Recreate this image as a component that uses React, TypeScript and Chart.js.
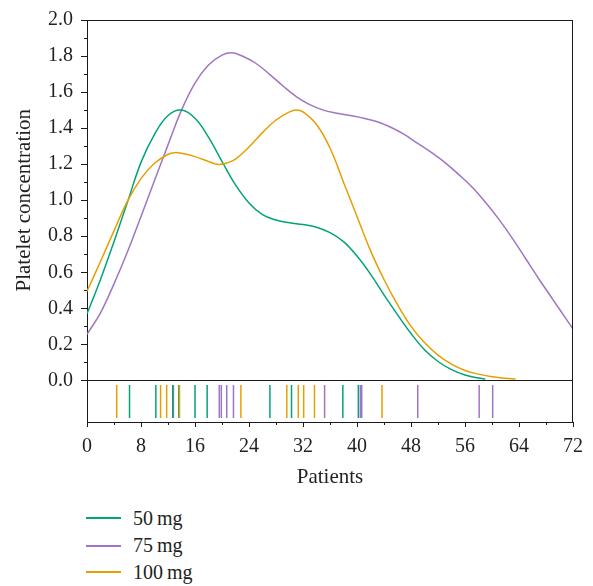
import React, { useEffect, useRef } from 'react';
import { Chart, registerables } from 'chart.js';

Chart.register(...registerables);

// ---- data ----
const SERIES_LABELS = ['50\u2009mg', '75\u2009mg', '100\u2009mg'];
const SERIES_COLORS = ['#00a478', '#9e76c4', '#e69f00'];

const X_50 = [0, 2, 4, 6, 8, 10, 12, 14, 16, 18, 20, 22, 24, 26, 28, 30, 32, 34, 36, 38, 40, 42, 44, 46, 48, 50, 52, 54, 56, 58, 59];
const Y_50 = [0.37, 0.56, 0.77, 0.99, 1.21, 1.365, 1.47, 1.5, 1.455, 1.35, 1.215, 1.085, 0.985, 0.92, 0.89, 0.875, 0.865, 0.85, 0.82, 0.77, 0.69, 0.59, 0.475, 0.365, 0.26, 0.17, 0.105, 0.06, 0.03, 0.013, 0.008];

const X_75 = [0, 2, 4, 6, 8, 10, 12, 14, 16, 18, 20, 21.5, 23, 25, 27, 29, 31, 33, 35, 37, 39, 41, 43, 45, 47, 49, 51, 53, 55, 57, 59, 61, 63, 65, 67, 69, 71, 72];
const Y_75 = [0.256, 0.375, 0.536, 0.714, 0.91, 1.109, 1.307, 1.5, 1.65, 1.75, 1.805, 1.818, 1.8, 1.76, 1.7, 1.635, 1.575, 1.53, 1.5, 1.483, 1.47, 1.455, 1.435, 1.405, 1.365, 1.315, 1.265, 1.21, 1.145, 1.075, 0.99, 0.895, 0.79, 0.675, 0.56, 0.45, 0.34, 0.285];

const X_100 = [0, 2, 4, 6, 8, 10, 12, 13, 14, 16, 18, 19.5, 21, 22, 24, 26, 28, 30, 31, 32, 34, 36, 38, 40, 42, 44, 46, 48, 50, 52, 54, 56, 58, 60, 62, 63.5];
const Y_100 = [0.495, 0.66, 0.83, 0.995, 1.12, 1.205, 1.255, 1.264, 1.26, 1.242, 1.215, 1.198, 1.21, 1.228, 1.295, 1.375, 1.445, 1.49, 1.5, 1.49, 1.42, 1.29, 1.1, 0.91, 0.72, 0.56, 0.42, 0.3, 0.21, 0.14, 0.09, 0.055, 0.035, 0.02, 0.012, 0.008];

const RUG_50 = [6.3, 10.2, 12.7, 13.6, 16.0, 17.8, 27.1, 30.3, 37.9, 40.2];
const RUG_75 = [12.8, 19.6, 19.9, 20.7, 21.7, 35.2, 40.5, 40.7, 49.0, 58.1, 60.1];
const RUG_100 = [4.4, 10.9, 11.8, 13.7, 22.8, 29.6, 31.3, 32.1, 33.7, 43.7];

const X_TICKS = [0, 8, 16, 24, 32, 40, 48, 56, 64, 72];
const X_MINOR = [4, 12, 20, 28, 36, 44, 52, 60, 68];
const Y_TICKS = [0, 0.2, 0.4, 0.6, 0.8, 1.0, 1.2, 1.4, 1.6, 1.8, 2.0];
const Y_MINOR = [0.1, 0.3, 0.5, 0.7, 0.9, 1.1, 1.3, 1.5, 1.7, 1.9];

const X_TITLE = 'Patients';
const Y_TITLE = 'Platelet concentration';

const FONT = '"Liberation Serif", "DejaVu Serif", serif';
const TEXT = '#231f20';
const AXIS = '#1a1a1a';
const W = 593;
const H = 490;

const framePlugin = {
  id: 'frame',
  afterDraw(chart: any) {
    const { ctx, chartArea: a, scales } = chart;
    const x = scales.x;
    const y = scales.y;
    ctx.save();
    ctx.strokeStyle = AXIS;
    ctx.lineWidth = 1;
    ctx.beginPath();
    ctx.moveTo(a.left, Math.round(a.top) + 0.5);
    ctx.lineTo(a.right, Math.round(a.top) + 0.5);
    ctx.moveTo(Math.round(a.right) - 0.5, a.top);
    ctx.lineTo(Math.round(a.right) - 0.5, a.bottom);
    const y0 = Math.round(y.getPixelForValue(0)) + 0.5;
    ctx.moveTo(a.left, y0);
    ctx.lineTo(a.right, y0);
    for (const v of X_MINOR) {
      const px = Math.round(x.getPixelForValue(v)) + 0.5;
      ctx.moveTo(px, a.bottom);
      ctx.lineTo(px, a.bottom + 3);
    }
    for (const v of Y_MINOR) {
      const py = Math.round(y.getPixelForValue(v)) + 0.5;
      ctx.moveTo(a.left, py);
      ctx.lineTo(a.left - 3, py);
    }
    ctx.stroke();
    ctx.restore();
  },
};

function curve(xs: number[], ys: number[], i: number) {
  return {
    type: 'line' as const,
    label: SERIES_LABELS[i],
    data: xs.map((x, k) => ({ x, y: ys[k] })),
    borderColor: SERIES_COLORS[i],
    borderWidth: 1.5,
    pointRadius: 0,
    fill: false,
    tension: 0.4,
    xAxisID: 'x',
    yAxisID: 'y',
  };
}

function rug(xs: number[], i: number) {
  return {
    type: 'scatter' as const,
    label: SERIES_LABELS[i] + ' rug',
    data: xs.map((x) => ({ x, y: 0.49 })),
    showLine: false,
    pointStyle: 'line',
    pointRotation: 90,
    pointRadius: 16.5,
    pointHoverRadius: 16.5,
    pointBorderColor: SERIES_COLORS[i],
    pointBackgroundColor: SERIES_COLORS[i],
    pointBorderWidth: 1.5,
    xAxisID: 'x',
    yAxisID: 'yRug',
  };
}

export default function App() {
  const ref = useRef<HTMLCanvasElement>(null);

  useEffect(() => {
    const canvas = ref.current;
    if (!canvas) return;
    const chart = new Chart(canvas, {
      type: 'line',
      data: {
        datasets: [
          curve(X_100, Y_100, 2),
          curve(X_50, Y_50, 0),
          curve(X_75, Y_75, 1),
          rug(RUG_100, 2),
          rug(RUG_50, 0),
          rug(RUG_75, 1),
        ] as any,
      },
      options: {
        animation: false,
        responsive: false,
        devicePixelRatio: 1,
        layout: { padding: { top: 16, right: 20, bottom: 0, left: 0 } },
        plugins: { legend: { display: false }, tooltip: { enabled: false } },
        events: [],
        scales: {
          yRug: {
            type: 'linear',
            position: 'left',
            stack: 'v',
            stackWeight: 42,
            min: 0,
            max: 1,
            afterFit: (s: any) => {
              s.width = 87;
            },
            ticks: { display: false },
            grid: { display: false },
            border: { display: true, color: AXIS, width: 1 },
          },
          y: {
            type: 'linear',
            position: 'left',
            stack: 'v',
            stackWeight: 364,
            min: 0,
            max: 2,
            afterBuildTicks: (s: any) => {
              s.ticks = Y_TICKS.map((v) => ({ value: v }));
            },
            afterFit: (s: any) => {
              s.width = 87;
            },
            ticks: {
              color: TEXT,
              font: { family: FONT, size: 20 },
              padding: 8,
              autoSkip: false,
              callback: (v: any) => Number(v).toFixed(1),
            },
            grid: { display: true, drawOnChartArea: false, drawTicks: true, tickLength: 6, color: AXIS, lineWidth: 1 },
            border: { display: true, color: AXIS, width: 1 },
            title: {
              display: true,
              text: Y_TITLE,
              color: TEXT,
              font: { family: FONT, size: 21 },
              padding: { top: 12, bottom: 0 },
            },
          },
          x: {
            type: 'linear',
            position: 'bottom',
            min: 0,
            max: 72,
            afterBuildTicks: (s: any) => {
              s.ticks = X_TICKS.map((v) => ({ value: v }));
            },
            afterFit: (s: any) => {
              s.height = H - 422;
            },
            ticks: {
              color: TEXT,
              font: { family: FONT, size: 20 },
              padding: 8,
              maxRotation: 0,
              autoSkip: false,
              callback: (v: any) => String(v),
            },
            grid: { display: true, drawOnChartArea: false, drawTicks: true, tickLength: 5, color: AXIS, lineWidth: 1 },
            border: { display: true, color: AXIS, width: 1 },
            title: {
              display: true,
              text: X_TITLE,
              color: TEXT,
              font: { family: FONT, size: 21 },
              padding: { top: 0, bottom: 0 },
            },
          },
        },
      } as any,
      plugins: [framePlugin],
    });
    return () => chart.destroy();
  }, []);

  const rows = [518, 545.5, 572];

  return (
    <div style={{ position: 'absolute', left: 0, top: 0, width: W, height: 586, background: '#fff' }}>
      <canvas ref={ref} width={W} height={H} style={{ position: 'absolute', left: 0, top: 0, width: W, height: H }} />
      {SERIES_LABELS.map((lab, i) => (
        <React.Fragment key={lab}>
          <div
            style={{
              position: 'absolute',
              left: 86,
              top: rows[i] - 1,
              width: 35,
              height: 2,
              background: SERIES_COLORS[i],
            }}
          />
          <div
            style={{
              position: 'absolute',
              left: 133,
              top: rows[i] - 10.2,
              fontFamily: FONT,
              fontSize: 20,
              lineHeight: '20px',
              color: TEXT,
              whiteSpace: 'nowrap',
            }}
          >
            {lab}
          </div>
        </React.Fragment>
      ))}
    </div>
  );
}
